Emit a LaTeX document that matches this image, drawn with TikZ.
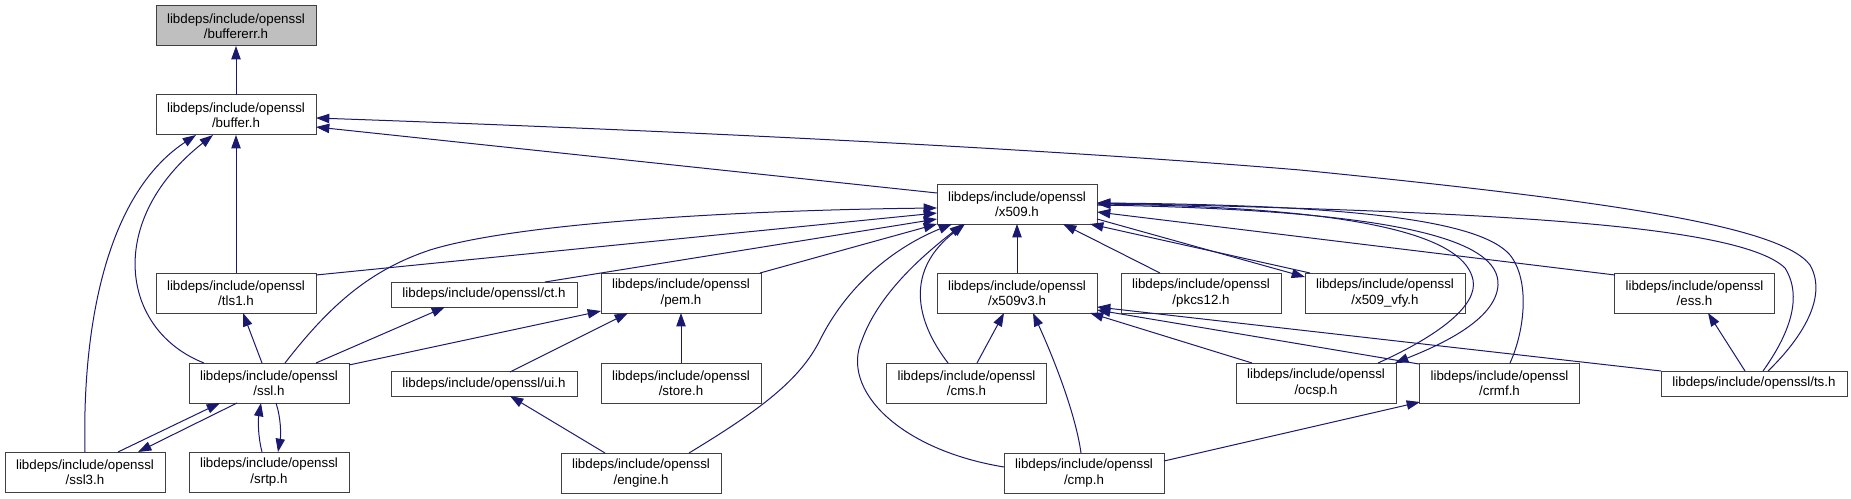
\documentclass[tikz,border=0pt]{standalone}
\usepackage{fontspec}
\setmainfont{Liberation Sans}
\usepackage{tikz}
\usetikzlibrary{arrows.meta}
\usetikzlibrary{calc}
\definecolor{EdgeBlue}{RGB}{25,25,112}
\definecolor{BoxGray}{RGB}{64,64,64}
\definecolor{FocusGray}{RGB}{191,191,191}
\tikzset{
    hdr/.style={draw=BoxGray, fill=white, line width=0.75pt, minimum width=120pt, minimum height=30pt,
        inner sep=1pt, outer sep=0pt, align=center, font=\fontsize{10}{11.5}\selectfont},
    hdrone/.style={hdr, minimum width=139.5pt, minimum height=18.75pt},
    dep/.style={draw=EdgeBlue, line width=0.75pt, -{Triangle[length=10pt,width=7pt]}}
}

\begin{document}
\begin{tikzpicture}[x=0.75pt, y=-0.75pt]
    \useasboundingbox (0,0) rectangle (1851,499);
    \node[hdr, fill=FocusGray] (buffererr) at (236,26) {libdeps/include/openssl\\/buffererr.h};
    \node[hdr] (buffer) at (236,115) {libdeps/include/openssl\\/buffer.h};
    \node[hdr] (x509) at (1017,204) {libdeps/include/openssl\\/x509.h};
    \node[hdr] (tls1) at (236,293) {libdeps/include/openssl\\/tls1.h};
    \node[hdrone] (ct) at (484,294.5) {libdeps/include/openssl/ct.h};
    \node[hdr] (pem) at (681,293) {libdeps/include/openssl\\/pem.h};
    \node[hdr] (x509v3) at (1017,293) {libdeps/include/openssl\\/x509v3.h};
    \node[hdr] (pkcs12) at (1201,293) {libdeps/include/openssl\\/pkcs12.h};
    \node[hdr] (x509vfy) at (1385,293) {libdeps/include/openssl\\/x509\_vfy.h};
    \node[hdr] (ess) at (1694.5,293) {libdeps/include/openssl\\/ess.h};
    \node[hdr] (ssl) at (269,383) {libdeps/include/openssl\\/ssl.h};
    \node[hdrone] (ui) at (484,384) {libdeps/include/openssl/ui.h};
    \node[hdr] (store) at (681,383) {libdeps/include/openssl\\/store.h};
    \node[hdr] (cms) at (966.5,383) {libdeps/include/openssl\\/cms.h};
    \node[hdr] (ocsp) at (1316,383) {libdeps/include/openssl\\/ocsp.h};
    \node[hdr] (crmf) at (1499.5,383) {libdeps/include/openssl\\/crmf.h};
    \node[hdrone] (ts) at (1754,383.5) {libdeps/include/openssl/ts.h};
    \node[hdr] (ssl3) at (85,472) {libdeps/include/openssl\\/ssl3.h};
    \node[hdr] (srtp) at (269,472) {libdeps/include/openssl\\/srtp.h};
    \node[hdr] (engine) at (641,473) {libdeps/include/openssl\\/engine.h};
    \node[hdr] (cmp) at (1084,473) {libdeps/include/openssl\\/cmp.h};

    \draw[dep] (buffer.north) -- (buffererr.south);
    \draw[dep] ($(x509)+(-80,-11)$) -- ($(buffer)+(80,12)$);
    \draw[dep] ($(ts)+(14,-12.5)$) .. controls (1795,345) and (1830,300) .. (1810,265)
        .. controls (1780,225) and (1600,200) .. (1300,170)
        .. controls (1000,145) and (600,128) .. ($(buffer)+(80,3)$);
    \draw[dep] (tls1.north) -- (buffer.south);
    \draw[dep] ($(ssl)+(-65,-20)$) .. controls (120,330) and (105,220) .. ($(buffer)+(-23,20)$);
    \draw[dep] ($(ssl3)+(0,-20)$) .. controls (82,330) and (105,195) .. ($(buffer)+(-40,20)$);

    \draw[dep] ($(ts)+(9,-12.5)$) .. controls (1785,340) and (1805,300) .. (1785,268)
        .. controls (1740,225) and (1500,212) .. ($(x509)+(80,-1)$);
    \draw[dep] ($(ess)+(-79.5,-18)$) -- ($(x509)+(80,8)$);
    \draw[dep] ($(x509vfy)+(-75,-20)$) -- ($(x509)+(73,20)$);
    \draw[dep] ($(x509)+(80,15)$) -- ($(x509vfy)+(-80,-16)$);
    \draw[dep] ($(pkcs12)+(-41,-20)$) -- ($(x509)+(46,20)$);
    \draw[dep] (x509v3.north) -- (x509.south);
    \draw[dep] ($(ocsp)+(62,-20)$) .. controls (1440,335) and (1478,305) .. (1473,280)
        .. controls (1465,240) and (1380,208) .. ($(x509)+(80,0)$);
    \draw[dep] ($(x509)+(80,1)$) .. controls (1400,210) and (1500,240) .. (1498,285)
        .. controls (1496,320) and (1440,345) .. ($(ocsp)+(79,-20)$);
    \draw[dep] ($(crmf)+(10.5,-20)$) .. controls (1525,330) and (1530,280) .. (1510,255)
        .. controls (1480,220) and (1350,205) .. ($(x509)+(80,-1)$);
    \draw[dep] ($(cms)+(-18.5,-20)$) .. controls (915,320) and (905,270) .. ($(x509)+(-52,20)$);
    \draw[dep] ($(cmp)+(-80,-6)$) .. controls (900,450) and (840,390) .. (862,340)
        .. controls (880,290) and (930,250) .. ($(x509)+(-54,20)$);
    \draw[dep] ($(engine)+(48,-20)$) .. controls (760,410) and (800,380) .. (820,340)
        .. controls (850,280) and (900,245) .. ($(x509)+(-65,20)$);
    \draw[dep] ($(pem)+(79,-20)$) -- ($(x509)+(-80,20)$);
    \draw[dep] ($(ct)+(61,-12.5)$) -- ($(x509)+(-80,15)$);
    \draw[dep] ($(tls1)+(80,-18)$) -- ($(x509)+(-80,9)$);
    \draw[dep] ($(ssl)+(16,-20)$) .. controls (330,305) and (370,270) .. (430,250)
        .. controls (520,222) and (750,210) .. ($(x509)+(-80,4)$);

    \draw[dep] ($(cms)+(10.5,-20)$) -- ($(x509v3)+(-13,20)$);
    \draw[dep] ($(cmp)+(-3,-20)$) .. controls (1075,410) and (1050,350) .. ($(x509v3)+(16,20)$);
    \draw[dep] ($(ocsp)+(-64,-20)$) -- ($(x509v3)+(73,20)$);
    \draw[dep] ($(crmf)+(-80.5,-19)$) -- ($(x509v3)+(80,17)$);
    \draw[dep] ($(ts)+(-93,-12.5)$) -- ($(x509v3)+(80,14)$);
    \draw[dep] ($(cmp)+(80,-12)$) -- ($(crmf)+(-79.5,19)$);
    \draw[dep] ($(ts)+(-9,-12.5)$) -- ($(ess)+(13.5,20)$);

    \draw[dep] ($(ssl)+(-7,-20)$) -- ($(tls1)+(7,20)$);
    \draw[dep] ($(ssl)+(47,-20)$) -- ($(ct)+(-39,12.5)$);
    \draw[dep] ($(ssl)+(80,-18)$) -- ($(pem)+(-80,18)$);
    \draw[dep] ($(ui)+(26,-12)$) -- ($(pem)+(-53,20)$);
    \draw[dep] (store.north) -- (pem.south);
    \draw[dep] ($(engine)+(-36,-20)$) -- ($(ui)+(26,12)$);
    \draw[dep] ($(ssl3)+(33,-20)$) -- ($(ssl)+(-49,20)$);
    \draw[dep] ($(ssl)+(-32,20)$) -- ($(ssl3)+(53,-20)$);
    \draw[dep] ($(srtp)+(-7,-20)$) .. controls (258,437) and (258,420) .. ($(ssl)+(-8,20)$);
    \draw[dep] ($(ssl)+(7,20)$) .. controls (281,418) and (281,435) .. ($(srtp)+(9,-20)$);
\end{tikzpicture}
\end{document}
